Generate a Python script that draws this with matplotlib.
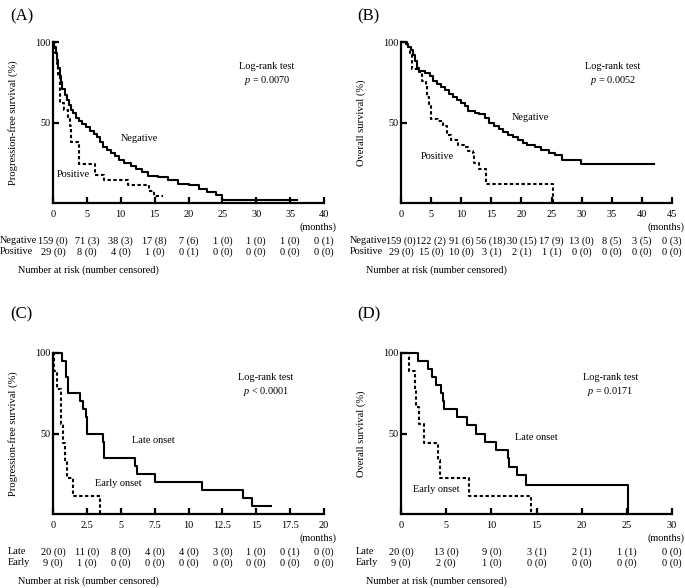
import matplotlib
matplotlib.use("Agg")
import matplotlib.pyplot as plt

plt.rcParams['font.family'] = ['Liberation Serif', 'DejaVu Serif']
plt.rcParams['mathtext.fontset'] = 'custom'
plt.rcParams['mathtext.it'] = 'Liberation Serif:italic'
plt.rcParams['mathtext.rm'] = 'Liberation Serif'

FS = 7.35

# --- (A) progression-free survival, negative vs positive
negA_t = [0, 0.2, 0.4, 0.6, 0.8, 1.0, 1.2, 1.4, 1.7, 2.0, 2.3, 2.6, 3.0, 3.4, 3.8, 4.3, 4.8,
          5.4, 6.0, 6.5, 7.0, 7.4, 7.9, 8.5, 9.2, 9.8, 10.5, 11.5, 12.3, 13.2, 14.0, 15.5,
          17.0, 18.5, 20.0, 21.5, 22.8, 24.0, 25.0, 36]
negA_s = [100, 97, 93, 89, 84, 79, 75, 71, 67, 64, 61, 58, 56, 53, 51, 49, 47,
          45, 43, 41, 38, 35, 33, 31, 29, 27, 25, 23, 21, 19, 17, 16,
          14, 12, 11, 9, 7, 5, 2, 2]
posA_t = [0, 0.3, 0.6, 0.8, 1.0, 1.1, 1.6, 2.2, 2.5, 2.6, 3.8, 6.2, 7.6, 11.0, 14.2, 14.9, 16.3]
posA_s = [100, 93, 86, 79, 69, 62, 58, 52, 48, 38, 24, 17.5, 14, 11, 7.5, 4.5, 4.5]
riskA_neg = ['159 (0)', '71 (3)', '38 (3)', '17 (8)', '7 (6)', '1 (0)', '1 (0)', '1 (0)', '0 (1)']
riskA_pos = ['29 (0)', '8 (0)', '4 (0)', '1 (0)', '0 (1)', '0 (0)', '0 (0)', '0 (0)', '0 (0)']

# --- (B) overall survival, negative vs positive
negB_t = [0, 0.8, 1.2, 1.6, 2.0, 2.3, 2.6, 3.0, 4.0, 4.8, 5.3, 6.0, 6.7, 7.3, 8.0, 8.6, 9.3,
          10.0, 10.6, 11.2, 12.3, 13.0, 14.0, 14.6, 15.5, 16.2, 17.0, 17.8, 18.6, 19.4,
          20.2, 21.0, 22.3, 23.3, 24.5, 25.5, 26.8, 29.9, 42]
negB_s = [100, 99, 97, 95, 92, 88, 84, 82, 81, 79, 76, 74, 72, 70, 68, 66, 64,
          62, 60, 57, 56, 55, 53, 50, 48, 46, 44, 42, 41, 39,
          37, 36, 35, 33, 31, 30, 26.5, 24.5, 24.5]
posB_t = [0, 1.0, 1.5, 1.8, 1.9, 3.0, 3.5, 4.1, 4.4, 4.7, 4.9, 6.2, 7.0, 7.6, 8.3, 9.5,
          10.5, 11.1, 11.9, 12.2, 12.9, 14.1, 25.2]
posB_s = [100, 97, 93, 90, 83, 81.5, 76, 72.5, 66, 61, 52, 51, 48, 42, 39, 36,
          35, 32, 31, 25, 21, 12, 0]
riskB_neg = ['159 (0)', '122 (2)', '91 (6)', '56 (18)', '30 (15)', '17 (9)', '13 (0)', '8 (5)', '3 (5)', '0 (3)']
riskB_pos = ['29 (0)', '15 (0)', '10 (0)', '3 (1)', '2 (1)', '1 (1)', '0 (0)', '0 (0)', '0 (0)', '0 (0)']

# --- (C) progression-free survival, late vs early onset
lateC_t = [0, 0.7, 0.95, 1.1, 2.0, 2.2, 2.4, 2.5, 3.7, 3.75, 6.05, 6.2, 7.5, 11.0, 14.0, 14.7, 16.1]
lateC_s = [100, 95, 85, 75, 70, 65, 60, 50, 45, 35, 30, 25, 20, 15, 10, 5, 5]
earlyC_t = [0, 0.05, 0.3, 0.6, 0.75, 0.85, 1.0, 1.5, 3.5]
earlyC_s = [100, 88.9, 77.8, 55.6, 44.4, 33.3, 22.2, 11.1, 0]
riskC_late = ['20 (0)', '11 (0)', '8 (0)', '4 (0)', '4 (0)', '3 (0)', '1 (0)', '0 (1)', '0 (0)']
riskC_early = ['9 (0)', '1 (0)', '0 (0)', '0 (0)', '0 (0)', '0 (0)', '0 (0)', '0 (0)', '0 (0)']

# --- (D) overall survival, late vs early onset
lateD_t = [0, 1.85, 2.95, 3.45, 3.9, 4.45, 4.65, 4.8, 6.2, 7.3, 8.35, 9.35, 10.5, 11.85,
           11.95, 12.8, 13.8, 25.1]
lateD_s = [100, 95, 90, 85, 80, 75, 70, 65, 60, 55, 50, 45, 40, 35, 29.5, 24, 18, 0]
earlyD_t = [0, 0.85, 1.6, 1.65, 1.95, 2.55, 4.1, 4.35, 7.5, 14.4]
earlyD_s = [100, 88.9, 77.8, 66.7, 55.6, 44.4, 33.3, 22.2, 11.1, 0]
riskD_late = ['20 (0)', '13 (0)', '9 (0)', '3 (1)', '2 (1)', '1 (1)', '0 (0)']
riskD_early = ['9 (0)', '2 (0)', '1 (0)', '0 (0)', '0 (0)', '0 (0)', '0 (0)']


def km_panel(ax, xmax, step, solid, dashed, ylab, test_xy, p_txt,
             lab1, lab1_xy, lab2, lab2_xy, rows, row_names):
    ax.plot(solid[0], solid[1], drawstyle='steps-post', color='black', lw=1.5, clip_on=False)
    ax.plot(dashed[0], dashed[1], drawstyle='steps-post', color='black', lw=1.5,
            linestyle=(0, (1.6, 1.2)), clip_on=False)
    ax.set_xlim(0, xmax)
    ax.set_ylim(0, 100)
    for s in ['top', 'right']:
        ax.spines[s].set_visible(False)
    for s in ['left', 'bottom']:
        ax.spines[s].set_linewidth(1.6)
    ticks = [i * step for i in range(int(round(xmax / step)) + 1)]
    ax.set_xticks(ticks)
    ax.set_xticklabels([('%g' % t) for t in ticks])
    ax.set_yticks([50, 100])
    ax.tick_params(axis='x', direction='in', length=4.5, width=1.6, pad=5, labelsize=FS)
    ax.tick_params(axis='y', direction='in', length=4.5, width=1.6, pad=2, labelsize=FS)
    ax.set_ylabel(ylab, fontsize=7.6)
    ax.yaxis.set_label_coords(-0.13, 0.5)
    ax.text(1.045, -0.15, '(months)', transform=ax.transAxes, ha='right', va='center', fontsize=FS)
    ax.text(test_xy[0], test_xy[1], 'Log-rank test', ha='center', va='center', fontsize=FS)
    ax.text(test_xy[0], test_xy[1] - 8.5, p_txt, ha='center', va='center', fontsize=FS)
    ax.text(lab1_xy[0], lab1_xy[1], lab1, ha='center', va='center', fontsize=FS)
    ax.text(lab2_xy[0], lab2_xy[1], lab2, ha='center', va='center', fontsize=FS)
    tr = ax.get_xaxis_transform()
    for row, name, yy in zip(rows, row_names, [-0.236, -0.304]):
        ax.text(name[1], yy, name[0], transform=ax.transAxes, ha='left', va='center', fontsize=FS)
        for t, val in zip(ticks, row):
            ax.text(t, yy, val, transform=tr, ha='center', va='center', fontsize=FS)
    ax.text(-0.129, -0.415, 'Number at risk (number censored)', transform=ax.transAxes,
            ha='left', va='center', fontsize=FS)


fig = plt.figure(figsize=(6.85, 5.88), dpi=100)
w, h = 271 / 685, 161 / 588
axA = fig.add_axes([53 / 685, 1 - 203 / 588, w, h])
axB = fig.add_axes([401 / 685, 1 - 203 / 588, w, h])
axC = fig.add_axes([53 / 685, 1 - 514 / 588, w, h])
axD = fig.add_axes([401 / 685, 1 - 514 / 588, w, h])

km_panel(axA, 40, 5, (negA_t, negA_s), (posA_t, posA_s), 'Progression-free survival (%)',
         (31.6, 84.5), '$p$ = 0.0070', 'Negative', (12.8, 40), 'Positive', (3.0, 17.5),
         [riskA_neg, riskA_pos], [('Negative', -0.196), ('Positive', -0.196)])
km_panel(axB, 45, 5, (negB_t, negB_s), (posB_t, posB_s), 'Overall survival (%)',
         (35.2, 84.5), '$p$ = 0.0052', 'Negative', (21.4, 53), 'Positive', (6.1, 28.6),
         [riskB_neg, riskB_pos], [('Negative', -0.188), ('Positive', -0.188)])
km_panel(axC, 20, 2.5, (lateC_t, lateC_s), (earlyC_t, earlyC_s), 'Progression-free survival (%)',
         (15.7, 84.5), '$p$ < 0.0001', 'Late onset', (7.4, 45.5), 'Early onset', (4.8, 19),
         [riskC_late, riskC_early], [('Late', -0.166), ('Early', -0.166)])
km_panel(axD, 30, 5, (lateD_t, lateD_s), (earlyD_t, earlyD_s), 'Overall survival (%)',
         (23.2, 84.5), '$p$ = 0.0171', 'Late onset', (15.0, 47.6), 'Early onset', (3.9, 15),
         [riskD_late, riskD_early], [('Late', -0.166), ('Early', -0.166)])

for lab, x, y in [('(A)', 10, 16), ('(B)', 357, 16), ('(C)', 10, 314), ('(D)', 357, 314)]:
    fig.text(x / 685, 1 - y / 588, lab, ha='left', va='center', fontsize=12)

fig.savefig('out.png', dpi=100)
